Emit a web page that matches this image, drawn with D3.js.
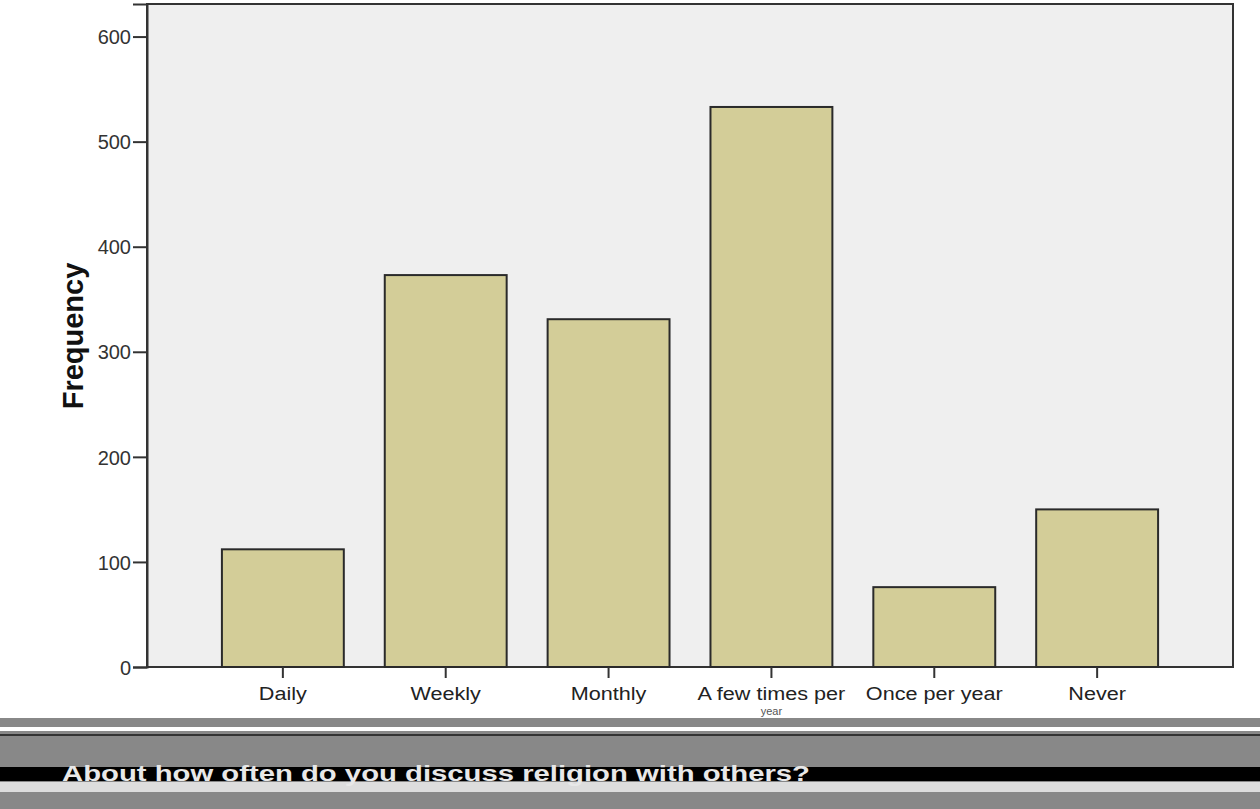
<!DOCTYPE html>
<html><head><meta charset="utf-8">
<script src="https://cdn.jsdelivr.net/npm/d3@7"></script>
<style>body{margin:0;background:#fff}svg{display:block;font-family:Arial,"Liberation Sans",sans-serif}</style>
</head><body><svg id="c" width="1260" height="809"></svg>
<script>
const categories = ["Daily","Weekly","Monthly","A few times per year","Once per year","Never"];
const frequencies = [112, 373, 331, 533, 76, 150];
const yTicks = [0,100,200,300,400,500,600];
const yLabel = "Frequency";
const xTitle = "About how often do you discuss religion with others?";

const svg = d3.select("#c");
const L=147, R=1233, T=4, B=667;

// footer bands (scan damage in the reference)
svg.append("rect").attr("x",0).attr("y",718).attr("width",1260).attr("height",91).attr("fill","#888");
svg.append("rect").attr("x",0).attr("y",727).attr("width",1260).attr("height",4).attr("fill","#fff");
svg.append("rect").attr("x",0).attr("y",734).attr("width",1260).attr("height",2).attr("fill","#333");
svg.append("rect").attr("x",0).attr("y",767).attr("width",1260).attr("height",14).attr("fill","#000");
svg.append("rect").attr("x",0).attr("y",782).attr("width",1260).attr("height",10).attr("fill","#ddd");

const x = d3.scaleBand().domain(categories).range([L,R]).paddingInner(0.2515).paddingOuter(0.46);
const y = d3.scaleLinear().domain([0,631]).range([B,T]);

svg.append("rect").attr("x",L).attr("y",T).attr("width",R-L).attr("height",B-T)
  .attr("fill","#efefef").attr("stroke","#333").attr("stroke-width",2);

svg.selectAll("rect.bar").data(frequencies).join("rect").attr("class","bar")
  .attr("x",(d,i)=>x(categories[i])).attr("width",x.bandwidth())
  .attr("y",d=>y(d)).attr("height",d=>B-y(d))
  .attr("fill","#d3cd98").attr("stroke","#2a2a2a").attr("stroke-width",2);

const ya = svg.append("g").attr("transform",`translate(${L},0)`)
  .call(d3.axisLeft(y).tickValues(yTicks).tickSize(14).tickPadding(2));
ya.select(".domain").attr("stroke","#333").attr("stroke-width",2);
ya.selectAll(".tick line").attr("stroke","#333").attr("stroke-width",2);
ya.selectAll(".tick text").attr("font-size",20).attr("fill","#333").attr("dy","0.36em")
  .attr("font-family","Arial, Liberation Sans, sans-serif");

const xa = svg.append("g").attr("transform",`translate(0,${B})`)
  .call(d3.axisBottom(x).tickSize(11).tickSizeOuter(0).tickFormat(""));
xa.select(".domain").remove();
xa.selectAll(".tick line").attr("stroke","#333").attr("stroke-width",2);

const xl = svg.selectAll("text.xl").data(categories).join("text").attr("class","xl")
  .attr("x",d=>x(d)+x.bandwidth()/2).attr("y",700)
  .attr("text-anchor","middle").attr("font-size",18).attr("fill","#222")
  .text(d=>d==="A few times per year"?"A few times per":d);
xl.each(function(){ const w=this.getComputedTextLength(); d3.select(this).attr("textLength",w*1.2).attr("lengthAdjust","spacingAndGlyphs"); });
svg.append("text").attr("x",x(categories[3])+x.bandwidth()/2).attr("y",715)
  .attr("text-anchor","middle").attr("font-size",11).attr("fill","#555").text("year");

svg.append("text").attr("transform","translate(83,336) rotate(-90)")
  .attr("text-anchor","middle").attr("font-size",29).attr("font-weight","bold").attr("fill","#111")
  .text(yLabel);

svg.append("text").attr("x",62).attr("y",781).attr("font-size",22).attr("font-weight","bold")
  .attr("fill","#e8e8e8").attr("textLength",748).attr("lengthAdjust","spacingAndGlyphs").text(xTitle);
</script></body></html>
